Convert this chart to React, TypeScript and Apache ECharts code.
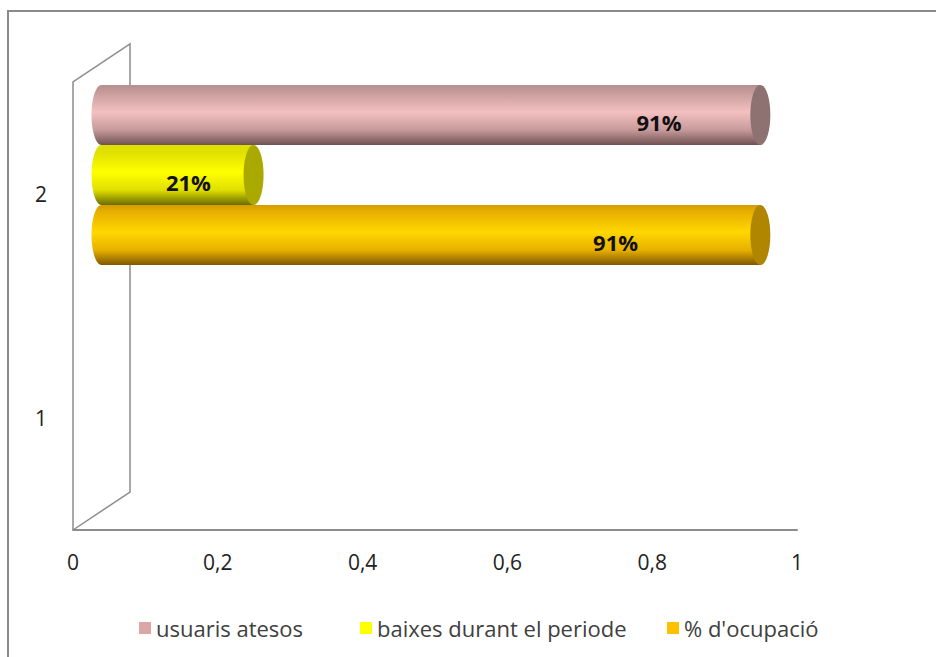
import React, { useEffect, useRef } from "react";
import * as echarts from "echarts";

const categories = ["1", "2"];
const seriesNames = ["usuaris atesos", "baixes durant el periode", "% d'ocupació"];
const usuarisAtesos = ["-", 0.91];
const baixesPeriode = ["-", 0.21];
const ocupacio = ["-", 0.91];
const labelAt = [0.77, 0.12, 0.71];
const xTicks = [0, 0.2, 0.4, 0.6, 0.8, 1];

const palette = [
  { legend: "#dba6a6", top: "#b58f8f", mid: "#f4c0c0", low: "#c79a9a", bottom: "#6f5252", cap: "#8e7171" },
  { legend: "#ffff00", top: "#dede00", mid: "#ffff00", low: "#e0e000", bottom: "#6a6a00", cap: "#a9a900" },
  { legend: "#ffc000", top: "#d59c00", mid: "#ffd700", low: "#e8b000", bottom: "#7e5800", cap: "#b08600" },
];

const GRID = { left: 73, top: 82, right: 936 - 797, bottom: 657 - 530 };
const DX = 28.5;
const DY = -19;
const legendLefts = [134, 355, 662];

export default function App() {
  const ref = useRef<HTMLDivElement>(null);
  useEffect(() => {
    if (!ref.current) return;
    const chart = echarts.init(ref.current, null, { renderer: "svg" });
    const allData = [usuarisAtesos, baixesPeriode, ocupacio];
    const font = "'Open Sans', sans-serif";

    const mkRender = (si: number) => (params: any, api: any) => {
      const v = api.value(0);
      const cat = api.value(1);
      if (v === "-" || v == null || isNaN(v)) return null;
      const start = api.coord([0, cat]);
      const end = api.coord([v, cat]);
      const band = api.size([0, 1])[1];
      const th = band * 0.268;
      const cy = start[1] + DY + (si - 1) * th;
      const x0 = start[0] + DX;
      const x1 = end[0] + DX;
      const rx = 10;
      const ry = th / 2;
      const c = palette[si];
      const grad = new echarts.graphic.LinearGradient(0, 0, 0, 1, [
        { offset: 0, color: c.top },
        { offset: 0.12, color: c.low },
        { offset: 0.45, color: c.mid },
        { offset: 0.75, color: c.low },
        { offset: 1, color: c.bottom },
      ]);
      const lp = api.coord([labelAt[si], cat]);
      return {
        type: "group",
        children: [
          { type: "ellipse", shape: { cx: x0, cy, rx, ry }, style: { fill: grad } },
          { type: "rect", shape: { x: x0, y: cy - ry, width: x1 - x0, height: th }, style: { fill: grad } },
          { type: "ellipse", shape: { cx: x1, cy, rx, ry }, style: { fill: c.cap } },
          {
            type: "text",
            x: lp[0] + DX,
            y: cy + 7,
            style: {
              text: Math.round(v * 100) + "%",
              fill: "#111",
              font: "bold 22px " + font,
              align: "center",
              verticalAlign: "middle",
            },
          },
        ],
      };
    };

    chart.setOption({
      animation: false,
      backgroundColor: "#fff",
      grid: GRID,
      legend: seriesNames.map((n, i) => ({
        left: legendLefts[i],
        top: 612,
        itemWidth: 12,
        itemHeight: 12,
        icon: "rect",
        textStyle: { fontSize: 22, color: "#404040", fontFamily: font },
        data: [n],
      })),
      graphic: [
        {
          type: "rect",
          shape: { x: 8, y: 11, width: 1000, height: 800 },
          style: { fill: "none", stroke: "#8a8a8a", lineWidth: 2 },
          silent: true,
          z: 0,
        },
        {
          type: "polyline",
          shape: { points: [[73, 530], [73, 82], [130, 44], [130, 492], [73, 530]] },
          style: { fill: "none", stroke: "#8c8c8c", lineWidth: 1.5 },
          silent: true,
          z: 1,
        },
      ],
      xAxis: {
        type: "value",
        min: 0,
        max: 1,
        interval: 0.2,
        axisLine: { show: true, lineStyle: { color: "#8c8c8c", width: 2 } },
        axisTick: { show: false },
        splitLine: { show: false },
        axisLabel: {
          margin: 21,
          fontSize: 21,
          color: "#222",
          fontFamily: font,
          formatter: (val: number) => String(+val.toFixed(1)).replace(".", ","),
        },
        data: xTicks,
      },
      yAxis: {
        type: "category",
        data: categories,
        axisLine: { show: false },
        axisTick: { show: false },
        splitLine: { show: false },
        axisLabel: { margin: 26, fontSize: 21, color: "#222", fontFamily: font },
      },
      series: allData.map((arr, si) => ({
        type: "custom",
        name: seriesNames[si],
        itemStyle: { color: palette[si].legend },
        z: 5,
        renderItem: mkRender(si),
        encode: { x: 0, y: 1 },
        data: arr.map((v, i) => [v, i]),
      })),
    });
    return () => chart.dispose();
  }, []);
  return (
    <div
      ref={ref}
      style={{ position: "fixed", left: 0, top: 0, width: 936, height: 657 }}
    />
  );
}
